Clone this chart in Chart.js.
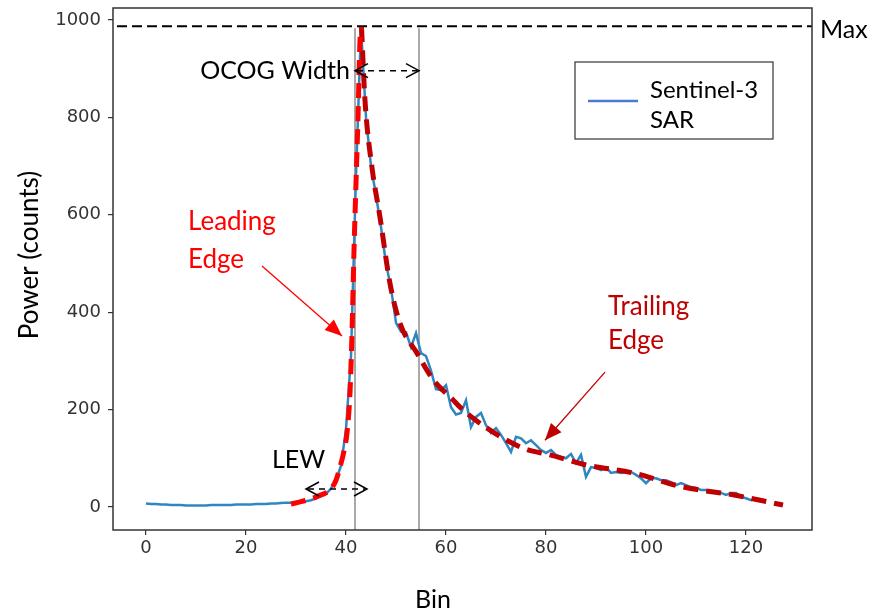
<!DOCTYPE html>
<html>
<head>
<meta charset="utf-8">
<script src="https://cdn.jsdelivr.net/npm/chart.js@4.4.1/dist/chart.umd.min.js"></script>
<style>
html, body { margin: 0; padding: 0; background: #fff; }
#wrap { width: 874px; height: 614px; }
</style>
</head>
<body>
<div id="wrap"><canvas id="waveform"></canvas></div>
<script>
// waveform bins and measured power
const bins = [0,1,2,3,4,5,6,7,8,9,10,11,12,13,14,15,16,17,18,19,20,21,22,23,24,25,26,27,28,29,
  30,31,32,33,34,35,36,37,38,39,40,41,42,43,44,45,46,47,48,49,50,51,52,53,54,55,56,57,58,59,
  60,61,62,63,64,65,66,67,68,69,70,71,72,73,74,75,76,77,78,79,80,81,82,83,84,85,86,87,88,89,
  90,91,92,93,94,95,96,97,98,99,100,101,102,103,104,105,106,107,108,109,110,111,112,113,114,
  115,116,117,118,119,120,121,122,123];
const power = [7,6,6,5,5,4,4,4,3,3,3,3,3,4,4,4,4,4,5,5,5,5,6,6,6,7,7,8,9,9,
  10,11,12,14,18,22,27,38,55,85,160,310,680,985,800,700,640,575,500,450,
  378,360,359,328,357,316,310,280,242,240,250,205,190,193,219,164,185,193,168,152,
  162,148,131,113,144,141,131,137,127,117,111,117,107,103,100,109,90,107,62,82,
  80,76,82,70,72,70,72,72,66,59,49,59,59,55,55,51,45,49,45,41,
  39,35,35,31,29,29,25,29,29,21,18,14,18,14];

// fitted leading edge and trailing edge
const leadX = [29, 31, 33.4, 35, 36.8, 38, 38.8, 39.6, 40.2, 40.8, 41.2, 41.6, 42, 42.4, 42.8, 43.1];
const leadY = [6, 11, 18, 25, 35, 55, 82, 115, 152, 235, 357, 527, 665, 800, 960, 985];
const trailX = [43.1, 43.8, 45.2, 46.8, 48.8, 50.8, 54.2, 57.4, 61.4, 62.8, 68.2, 75.4, 80.8, 88.2, 97.4, 107.4, 117.4, 127.4];
const trailY = [985, 835, 697, 595, 459, 377, 316, 262, 220, 205, 162, 121, 107, 86, 70, 41, 25, 4];

const maxPower = 987;
const ocogGate = [41.8, 54.6];
const ocogY = 896;
const lewGate = [32, 44.2];
const lewY = 37;

const yTicks = [0, 200, 400, 600, 800, 1000];
const xTicks = [0, 20, 40, 60, 80, 100, 120];

const calibri = 'Lato, "Open Sans", sans-serif';

function arrowHead(ctx, x0, y0, x1, y1, len, half, filled) {
  const a = Math.atan2(y1 - y0, x1 - x0);
  const bx = x1 - len * Math.cos(a), by = y1 - len * Math.sin(a);
  const nx = -Math.sin(a) * half, ny = Math.cos(a) * half;
  ctx.beginPath();
  ctx.moveTo(bx + nx, by + ny);
  ctx.lineTo(x1, y1);
  ctx.lineTo(bx - nx, by - ny);
  if (filled) { ctx.closePath(); ctx.fill(); } else { ctx.stroke(); }
}

function dashedDouble(ctx, xa, xb, yy) {
  ctx.save();
  ctx.strokeStyle = '#000';
  ctx.lineWidth = 1.5;
  ctx.setLineDash([6, 5]);
  ctx.beginPath(); ctx.moveTo(xa + 2, yy); ctx.lineTo(xb - 2, yy); ctx.stroke();
  ctx.setLineDash([]);
  arrowHead(ctx, xb, yy, xa, yy, 13, 7, false);
  arrowHead(ctx, xa, yy, xb, yy, 13, 7, false);
  ctx.restore();
}

const annotate = {
  id: 'annotate',
  beforeDatasetsDraw(chart) {
    const { ctx, chartArea, scales: { x, y } } = chart;
    ctx.save();
    ctx.strokeStyle = '#8c8c8c';
    ctx.lineWidth = 1.5;
    ocogGate.forEach(b => {
      const px = x.getPixelForValue(b);
      ctx.beginPath();
      ctx.moveTo(px, y.getPixelForValue(maxPower) + 2);
      ctx.lineTo(px, chartArea.bottom);
      ctx.stroke();
    });
    ctx.restore();
  },
  afterDatasetsDraw(chart) {
    const { ctx, chartArea, scales: { x, y } } = chart;
    ctx.save();

    // max line
    const my = y.getPixelForValue(maxPower);
    ctx.strokeStyle = '#000';
    ctx.lineWidth = 2;
    ctx.setLineDash([10, 5]);
    ctx.beginPath(); ctx.moveTo(chartArea.left + 4, my); ctx.lineTo(chartArea.right, my); ctx.stroke();
    ctx.setLineDash([]);

    // width arrows
    dashedDouble(ctx, x.getPixelForValue(ocogGate[0]), x.getPixelForValue(ocogGate[1]), y.getPixelForValue(ocogY));
    dashedDouble(ctx, x.getPixelForValue(lewGate[0]), x.getPixelForValue(lewGate[1]), y.getPixelForValue(lewY));

    // red pointer arrows
    const pointers = [
      { from: [23.2, 495], to: [39.2, 351], color: '#ff0000' },
      { from: [91.8, 277], to: [79.8, 137], color: '#c00000' }
    ];
    pointers.forEach(p => {
      const x0 = x.getPixelForValue(p.from[0]), y0 = y.getPixelForValue(p.from[1]);
      const x1 = x.getPixelForValue(p.to[0]), y1 = y.getPixelForValue(p.to[1]);
      ctx.strokeStyle = p.color; ctx.fillStyle = p.color; ctx.lineWidth = 1.3;
      ctx.beginPath(); ctx.moveTo(x0, y0); ctx.lineTo(x1, y1); ctx.stroke();
      arrowHead(ctx, x0, y0, x1, y1, 17, 7, true);
    });

    // labels
    ctx.textBaseline = 'middle';
    ctx.font = '25px ' + calibri;
    ctx.fillStyle = '#000';
    ctx.textAlign = 'right';
    ctx.fillText('OCOG Width', x.getPixelForValue(40.8), y.getPixelForValue(ocogY));
    ctx.textAlign = 'left';
    ctx.fillText('LEW', x.getPixelForValue(25.2), y.getPixelForValue(96));
    ctx.fillText('Max', chartArea.right + 8, my + 4);
    ctx.font = '26px ' + calibri;
    ctx.fillStyle = '#ff0000';
    ctx.fillText('Leading', x.getPixelForValue(8.4), y.getPixelForValue(585));
    ctx.fillText('Edge', x.getPixelForValue(8.4), y.getPixelForValue(509));
    ctx.fillStyle = '#c00000';
    ctx.fillText('Trailing', x.getPixelForValue(92.4), y.getPixelForValue(412));
    ctx.fillText('Edge', x.getPixelForValue(92.4), y.getPixelForValue(341));

    // legend box
    const lx = chartArea.right - 237, ly = chartArea.top + 54;
    ctx.fillStyle = '#fff';
    ctx.fillRect(lx, ly, 198, 77);
    ctx.strokeStyle = '#333'; ctx.lineWidth = 1.2;
    ctx.strokeRect(lx, ly, 198, 77);
    ctx.strokeStyle = '#4a7bd0'; ctx.lineWidth = 2.5;
    ctx.beginPath(); ctx.moveTo(lx + 13, ly + 39); ctx.lineTo(lx + 63, ly + 39); ctx.stroke();
    ctx.fillStyle = '#000';
    ctx.font = '24px ' + calibri;
    ctx.fillText('Sentinel-3', lx + 75, ly + 28);
    ctx.fillText('SAR', lx + 75, ly + 58);

    // axis titles
    ctx.textAlign = 'center';
    ctx.font = '25px ' + calibri;
    ctx.fillText('Bin', 433, 600);
    ctx.font = '26px ' + calibri;
    ctx.translate(30, 255);
    ctx.rotate(-Math.PI / 2);
    ctx.fillText('Power (counts)', 0, 0);
    ctx.restore();

    // frame
    ctx.save();
    ctx.strokeStyle = '#333';
    ctx.lineWidth = 1.5;
    ctx.strokeRect(chartArea.left, chartArea.top, chartArea.right - chartArea.left, chartArea.bottom - chartArea.top);
    ctx.restore();
  }
};

const tickFont = { family: '"DejaVu Sans", Verdana, sans-serif', size: 18 };

const ctx = document.getElementById('waveform').getContext('2d');
const chart = new Chart(ctx, {
  type: 'line',
  data: {
    labels: bins,
    datasets: [{
      label: 'Leading edge fit',
      data: leadX.map((v, i) => ({ x: v, y: leadY[i] })),
      borderColor: '#ff0000',
      borderWidth: 5,
      borderDash: [15, 8],
      pointRadius: 0,
      cubicInterpolationMode: 'monotone',
      order: 0
    }, {
      label: 'Trailing edge fit',
      data: trailX.map((v, i) => ({ x: v, y: trailY[i] })),
      borderColor: '#c00000',
      borderWidth: 5,
      borderDash: [15, 8],
      pointRadius: 0,
      cubicInterpolationMode: 'monotone',
      order: 0
    }, {
      label: 'Sentinel-3 SAR',
      data: power,
      borderColor: '#2f86c3',
      borderWidth: 2.5,
      pointRadius: 0,
      tension: 0,
      order: 1
    }]
  },
  options: {
    responsive: true,
    maintainAspectRatio: false,
    animation: false,
    layout: { padding: { top: 8, right: 62, left: 0, bottom: 0 } },
    plugins: { legend: { display: false }, tooltip: { enabled: false } },
    scales: {
      x: {
        type: 'linear',
        min: -6.6, max: 133.2,
        afterBuildTicks: (s) => { s.ticks = xTicks.map(v => ({ value: v })); },
        afterFit: (s) => { s.height = 84; s.paddingLeft = 0; s.paddingRight = 0; },
        grid: { display: true, drawOnChartArea: false, tickLength: 5, tickColor: '#333', lineWidth: 1.2 },
        border: { display: false },
        ticks: { color: '#333', padding: 3, maxRotation: 0, font: tickFont, callback: (v) => String(v) }
      },
      y: {
        min: -47.2, max: 1024.6,
        afterBuildTicks: (s) => { s.ticks = yTicks.map(v => ({ value: v })); },
        afterFit: (s) => { s.width = 113; s.paddingTop = 0; s.paddingBottom = 0; },
        grid: { display: true, drawOnChartArea: false, tickLength: 5, tickColor: '#333', lineWidth: 1.2 },
        border: { display: false },
        ticks: { color: '#333', padding: 7, font: tickFont, callback: (v) => String(v) }
      }
    }
  },
  plugins: [annotate]
});
</script>
</body>
</html>
